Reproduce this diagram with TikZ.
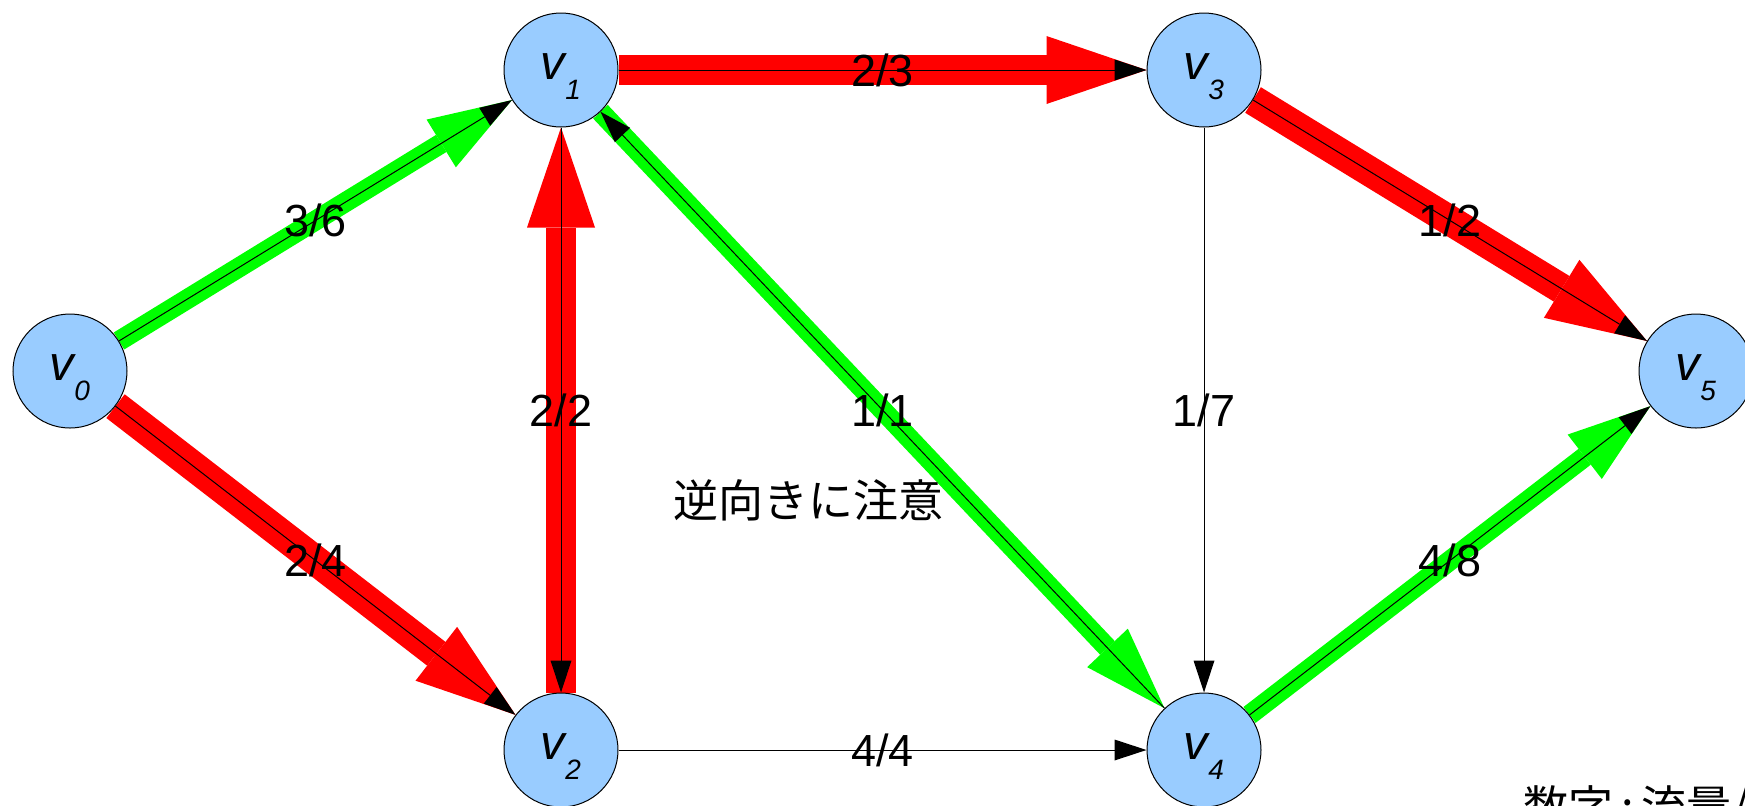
\documentclass[tikz,border=0pt]{standalone}
\usepackage{fontspec}
\setmainfont{Liberation Sans}
\newfontfamily\jpfont{Noto Sans CJK JP}
\usetikzlibrary{arrows.meta}
\pgfdeclarelayer{bg}
\pgfsetlayers{bg,main}
\definecolor{nodefill}{RGB}{153,204,255}
\definecolor{flowred}{RGB}{255,0,0}
\definecolor{flowgreen}{RGB}{0,255,0}
\tikzset{
  vert/.style={circle, draw=black, line width=0.5pt, fill=nodefill, minimum size=57pt,
    inner sep=0pt, text height=15.5pt, text depth=6.5pt,
    font=\fontsize{24.5}{24.5}\selectfont\itshape},
  redband/.style={draw=flowred, line width=15pt,
    -{Triangle[length=50pt,width=34pt,line width=0pt]}},
  greenband/.style={draw=flowgreen, line width=10pt,
    -{Triangle[length=41.5pt,width=28pt,line width=0pt]}},
  thinarrow/.style={draw=black, line width=0.5pt,
    -{Triangle[length=16pt,width=10.5pt,line width=0pt]}},
  flowlabel/.style={font=\fontsize{22.5}{22.5}\selectfont, inner sep=0pt},
  jptext/.style={font=\jpfont\fontsize{22.5}{22.5}\selectfont, inner sep=0pt},
}
\newcommand{\vlab}[1]{v\raisebox{-10pt}{\fontsize{14}{14}\selectfont\itshape #1}}
\begin{document}
\begin{tikzpicture}[x=0.5pt,y=-0.5pt]
\useasboundingbox (0,0) rectangle (1745,805);
\node[vert] (v0) at (70,371) {\vlab{0}};
\node[vert] (v1) at (561,70) {\vlab{1}};
\node[vert] (v2) at (561,750) {\vlab{2}};
\node[vert] (v3) at (1204,70) {\vlab{3}};
\node[vert] (v4) at (1204,750) {\vlab{4}};
\node[vert] (v5) at (1696,371) {\vlab{5}};
\begin{pgfonlayer}{bg}
\draw[greenband] (v0) -- (v1);
\draw[redband] (v0) -- (v2);
\draw[redband] (v2) -- (v1);
\draw[redband] (v1) -- (v3);
\draw[greenband] (v1) -- (v4);
\draw[redband] (v3) -- (v5);
\draw[greenband] (v4) -- (v5);
\draw[thinarrow] (v0) -- node[flowlabel] (l01) {3/6} (v1);
\draw[thinarrow] (v0) -- node[flowlabel] (l02) {2/4} (v2);
\draw[thinarrow] (v1) -- node[flowlabel] (l12) {2/2} (v2);
\draw[thinarrow] (v1) -- node[flowlabel] (l13) {2/3} (v3);
\draw[thinarrow] (v4) -- node[flowlabel] (l41) {1/1} (v1);
\draw[thinarrow] (v3) -- node[flowlabel] (l34) {1/7} (v4);
\draw[thinarrow] (v2) -- node[flowlabel] (l24) {4/4} (v4);
\draw[thinarrow] (v3) -- node[flowlabel] (l35) {1/2} (v5);
\draw[thinarrow] (v4) -- node[flowlabel] (l45) {4/8} (v5);
\end{pgfonlayer}
\node[jptext] (note) at (808,500) {逆向きに注意};
\node[jptext, anchor=base west] (legend) at (1523,823) {数字\hspace{4pt}:\hspace{4pt}流量/容量};
\end{tikzpicture}
\end{document}
